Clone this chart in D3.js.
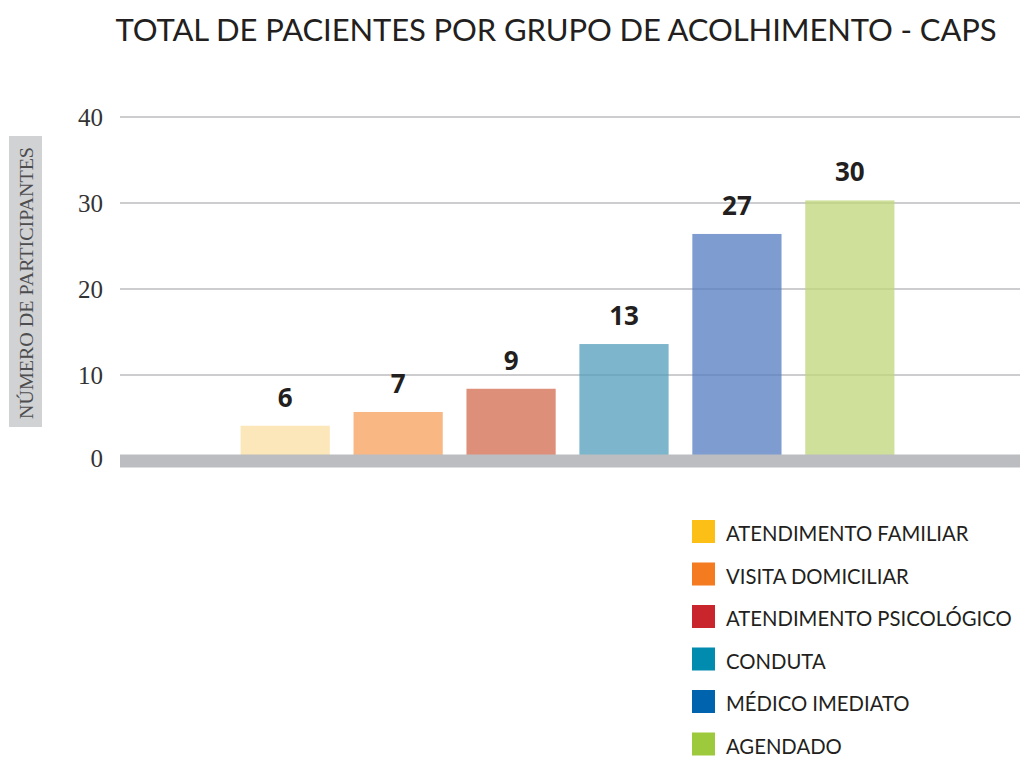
<!DOCTYPE html>
<html>
<head>
<meta charset="utf-8">
<script src="https://cdn.jsdelivr.net/npm/d3@7"></script>
<style>
  body { margin: 0; background: #fff; }
  svg { display: block; }
</style>
</head>
<body>
<div id="chart"></div>
<script>
// categorias e valores
var categories = ["ATENDIMENTO FAMILIAR", "VISITA DOMICILIAR", "ATENDIMENTO PSICOLÓGICO",
                  "CONDUTA", "MÉDICO IMEDIATO", "AGENDADO"];
var valueLabels = [6, 7, 9, 13, 27, 30];          // numeros escritos sobre as barras
var barHeights = [4.1, 5.7, 8.4, 13.6, 26.4, 30.3]; // altura desenhada das barras
var yTicks = [0, 10, 20, 30, 40];
var legendColors = ["#FBBF15", "#F47B20", "#C9252C", "#008BAF", "#0063AE", "#9DCA3C"];
var barColors = ["#FADFA2", "#F79F5B", "#D36A4E", "#529EBB", "#547BC2", "#BED678"];

var width = 1021, height = 758;

var svg = d3.select("#chart").append("svg")
    .attr("width", width)
    .attr("height", height);

var x = d3.scaleBand()
    .domain(categories)
    .range([120, 1020])
    .paddingInner(0.21)
    .paddingOuter(1.09)
    .align(0.49);

var y = d3.scaleLinear()
    .domain([0, 40])
    .range([461, 117]);

// titulo
svg.append("text")
    .attr("x", 556)
    .attr("y", 41)
    .attr("text-anchor", "middle")
    .style("font", "31px Lato, sans-serif")
    .style("letter-spacing", "-0.1px")
    .style("fill", "#231F20")
    .text("TOTAL DE PACIENTES POR GRUPO DE ACOLHIMENTO - CAPS");

// titulo do eixo y
svg.append("rect")
    .attr("x", 9).attr("y", 136)
    .attr("width", 33).attr("height", 291)
    .style("fill", "#D1D2D4");

svg.append("text")
    .attr("transform", "translate(26.5,283) rotate(-90)")
    .attr("text-anchor", "middle")
    .attr("dominant-baseline", "central")
    .attr("textLength", 272)
    .attr("lengthAdjust", "spacingAndGlyphs")
    .style("font", "19px 'Liberation Serif', serif")
    .style("fill", "#4D4D4F")
    .text("NÚMERO DE PARTICIPANTES");

// linhas de grade
svg.append("g").selectAll("line")
    .data(yTicks.filter(function(d) { return d > 0; }))
  .enter().append("line")
    .attr("x1", 120).attr("x2", 1020)
    .attr("y1", function(d) { return y(d); })
    .attr("y2", function(d) { return y(d); })
    .style("stroke", "#BCBDC0")
    .style("stroke-width", 1.6);

// rotulos do eixo y
svg.append("g").selectAll("text")
    .data(yTicks)
  .enter().append("text")
    .attr("x", 103)
    .attr("y", function(d) { return y(d) - (d === 0 ? 3 : 0); })
    .attr("text-anchor", "end")
    .attr("dominant-baseline", "central")
    .style("font", "25px 'Liberation Serif', serif")
    .style("fill", "#333")
    .text(function(d) { return d; });

// barras
svg.append("g").selectAll("rect")
    .data(categories)
  .enter().append("rect")
    .attr("x", function(d) { return x(d); })
    .attr("width", x.bandwidth())
    .attr("y", function(d, i) { return y(barHeights[i]); })
    .attr("height", function(d, i) { return y(0) - y(barHeights[i]); })
    .style("fill", function(d, i) { return barColors[i]; })
    .style("fill-opacity", 0.75);

// faixa da base
svg.append("line")
    .attr("x1", 120).attr("x2", 1020)
    .attr("y1", y(0)).attr("y2", y(0))
    .style("stroke", "#BCBDC0")
    .style("stroke-width", 13);

// valores
svg.append("g").selectAll("text")
    .data(categories)
  .enter().append("text")
    .attr("x", function(d) { return x(d) + x.bandwidth() / 2; })
    .attr("y", function(d, i) { return y(barHeights[i]) - 19; })
    .attr("text-anchor", "middle")
    .style("font", "bold 26px 'Open Sans', sans-serif")
    .style("fill", "#231F20")
    .text(function(d, i) { return valueLabels[i]; });

// legenda
var legend = svg.append("g").selectAll("g")
    .data(categories)
  .enter().append("g")
    .attr("transform", function(d, i) { return "translate(692," + (520 + i * 42.5) + ")"; });

legend.append("rect")
    .attr("width", 23).attr("height", 23)
    .style("fill", function(d, i) { return legendColors[i]; });

legend.append("text")
    .attr("x", 34)
    .attr("y", 21)
    .style("font", "20.3px Lato, sans-serif")
    .style("fill", "#231F20")
    .text(function(d) { return d; });
</script>
</body>
</html>
